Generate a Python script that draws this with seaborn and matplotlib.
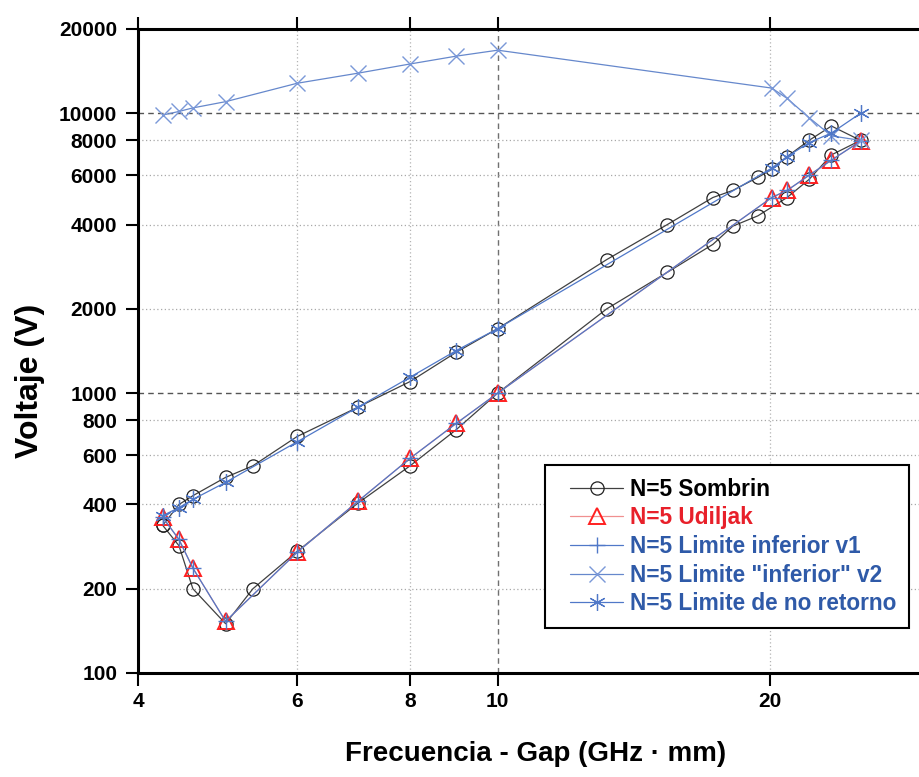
import matplotlib
matplotlib.use("Agg")
import matplotlib.pyplot as plt
from matplotlib.ticker import FixedLocator, NullLocator, FixedFormatter
from matplotlib.lines import Line2D
from matplotlib.legend_handler import HandlerLine2D
import seaborn as sns
import pandas as pd

# ---------------- data ----------------
sombrin_x = [4.26, 4.44, 4.6, 5.0, 5.36, 6, 7, 8, 9, 10, 13.2, 15.4, 17.3, 18.2, 19.4, 20.9, 22.1, 23.4, 25.2,
             23.4, 22.1, 20.9, 20.1, 19.4, 18.2, 17.3, 15.4, 13.2, 10, 9, 8, 7, 6, 5.36, 5.0, 4.6, 4.44, 4.26]
sombrin_y = [337, 285, 200, 150, 200, 272, 404, 550, 741, 1000, 2000, 2700, 3400, 3950, 4300, 5000, 5800, 7100, 8000,
             9000, 8000, 7000, 6300, 5900, 5300, 5000, 4000, 3000, 1700, 1400, 1100, 890, 700, 550, 500, 430, 400, 337]

udiljak_x = [4.26, 4.44, 4.6, 5.0, 6, 7, 8, 9, 10, 20.1, 20.9, 22.1, 23.4, 25.2]
udiljak_y = [360, 300, 237, 153, 270, 410, 585, 780, 1000, 5000, 5300, 6000, 6800, 7950]

v1_x = [4.26, 4.44, 4.6, 5.0, 6, 7, 8, 9, 10, 20.1, 20.9, 22.1, 23.4, 25.2]
v1_y = [360, 300, 237, 153, 270, 410, 585, 780, 1000, 5000, 5300, 6000, 6800, 7950]

v2_x = [4.26, 4.44, 4.6, 5.0, 6, 7, 8, 9, 10, 20.1, 20.9, 22.1, 23.4, 25.2]
v2_y = [9850, 10150, 10450, 11000, 12800, 13900, 15000, 16000, 16800, 12300, 11300, 9650, 8300, 8000]

nr_x = [4.26, 4.44, 4.6, 5.0, 6, 7, 8, 9, 10, 20.1, 20.9, 22.1, 23.4, 25.2]
nr_y = [365, 390, 417, 480, 670, 890, 1140, 1420, 1700, 6370, 7000, 7850, 8500, 10000]

labels = ["N=5 Sombrin", "N=5 Udiljak", "N=5 Limite inferior v1",
          "N=5 Limite \"inferior\" v2", "N=5 Limite de no retorno"]

xticks = [4, 6, 8, 10, 20]
yticks = [100, 200, 400, 600, 800, 1000, 2000, 4000, 6000, 8000, 10000, 20000]

# ---------------- style ----------------
sns.set_style("white")
plt.rcParams["font.family"] = ["Liberation Sans", "DejaVu Sans"]
plt.rcParams["font.weight"] = "bold"
plt.rcParams["text.color"] = "black"
plt.rcParams["axes.labelcolor"] = "black"
plt.rcParams["xtick.color"] = "black"
plt.rcParams["ytick.color"] = "black"

fig = plt.figure(figsize=(9.2, 7.77), dpi=100)
ax = fig.add_axes([138 / 920, 104 / 777, 791 / 920, 644 / 777])

BLUE = "#5078c8"
RED = "#ff2020"

series = [
    (sombrin_x, sombrin_y, dict(color="#404040", marker="o", markersize=9.5, markeredgecolor="#202020",
                                markerfacecolor="none", markeredgewidth=0.9)),
    (udiljak_x, udiljak_y, dict(color="#f09090", marker="^", markersize=11.5, markeredgecolor=RED,
                                markerfacecolor="none", markeredgewidth=1.4)),
    (v1_x, v1_y, dict(color=BLUE, marker="+", markersize=11, markeredgecolor=BLUE,
                      markeredgewidth=1.0)),
    (v2_x, v2_y, dict(color="#6688cc", marker="x", markersize=11, markeredgecolor="#7a98d8",
                      markeredgewidth=1.0)),
    (nr_x, nr_y, dict(color=BLUE, marker=(6, 2, 0), markersize=12, markeredgecolor=BLUE,
                      markeredgewidth=0.9)),
]

for (xs, ys, kw), lab in zip(series, labels):
    df = pd.DataFrame({"x": xs, "y": ys})
    sns.lineplot(data=df, x="x", y="y", sort=False, estimator=None, ax=ax,
                 linewidth=0.9, label=lab, legend=False, **kw)

ax.set_xscale("log")
ax.set_yscale("log")
ax.set_xlim(4, 30)
ax.set_ylim(100, 20000)

# grid lines
for v in [6, 8, 20]:
    ax.axvline(v, color="#b4b4b4", linestyle=(0, (1, 2)), linewidth=0.9, zorder=0)
ax.axvline(10, color="#707070", linestyle=(0, (4, 3)), linewidth=1.0, zorder=0)
for v in [200, 400, 600, 800, 2000, 4000, 6000, 8000]:
    ax.axhline(v, color="#a8a8a8", linestyle=(0, (1, 2)), linewidth=0.9, zorder=0)
for v in [1000, 10000]:
    ax.axhline(v, color="#555555", linestyle=(0, (4, 3)), linewidth=1.0, zorder=0)

ax.xaxis.set_major_locator(FixedLocator(xticks))
ax.xaxis.set_major_formatter(FixedFormatter([str(t) for t in xticks]))
ax.xaxis.set_minor_locator(NullLocator())
ax.yaxis.set_major_locator(FixedLocator(yticks))
ax.yaxis.set_major_formatter(FixedFormatter([str(t) for t in yticks]))
ax.yaxis.set_minor_locator(NullLocator())

ax.tick_params(axis="x", which="major", direction="out", length=9, width=1.5, labelsize=15, pad=5,
               bottom=True, top=True, color="black", labelcolor="black")
ax.tick_params(axis="y", which="major", direction="out", length=9, width=1.5, labelsize=15, pad=6,
               left=True, color="black", labelcolor="black")
for lab in ax.get_xticklabels() + ax.get_yticklabels():
    lab.set_fontweight("bold")

for s in ["left", "bottom", "top", "right"]:
    ax.spines[s].set_visible(True)
    ax.spines[s].set_color("black")
    ax.spines[s].set_linewidth(2.2)

ax.set_xlabel("Frecuencia - Gap (GHz · mm)", fontsize=20, fontweight="bold", color="black")
ax.set_ylabel("Voltaje (V)", fontsize=23, fontweight="bold", color="black")
ax.xaxis.set_label_coords(0.502, -0.105)
ax.yaxis.set_label_coords(-0.118, 0.453)

leg = ax.legend(loc="upper left", bbox_to_anchor=(545 / 920, 1 - 465 / 777),
                bbox_transform=fig.transFigure, prop={"size": 16.3, "weight": "bold"},
                frameon=True, fancybox=False, framealpha=1, edgecolor="black",
                handlelength=2.9, handletextpad=0.3, labelspacing=0.25,
                borderpad=0.56, borderaxespad=0,
                handler_map={Line2D: HandlerLine2D(xpad=0.55)})
leg.get_frame().set_linewidth(1.5)
text_colors = ["black", "#e8202a", "#2f5aa8", "#2f5aa8", "#2f5aa8"]
for t, c in zip(leg.get_texts(), text_colors):
    t.set_color(c)

fig.savefig("out.png", dpi=100)
